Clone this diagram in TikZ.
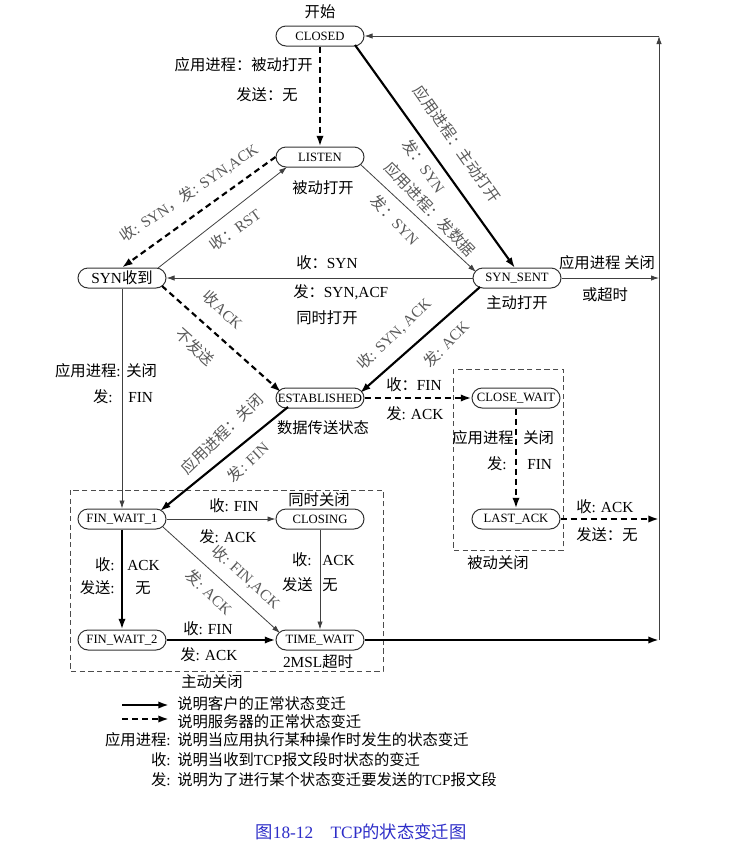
\documentclass[tikz,border=0pt]{standalone}
\usepackage{fontspec}
\setmainfont{Liberation Serif}
\newfontfamily\cjk{Noto Sans CJK SC}
\usetikzlibrary{arrows.meta,calc}
% automatic switch to the CJK font for ideographs
\XeTeXinterchartokenstate=1
\newXeTeXintercharclass\CJKcls
\count255="4E00
\loop\ifnum\count255<"A000 \XeTeXcharclass\count255=\CJKcls\relax\advance\count255 by 1 \repeat
\XeTeXcharclass"FF1A=\CJKcls\relax
\XeTeXcharclass"FF0C=\CJKcls\relax
\XeTeXcharclass"3000=\CJKcls\relax
\XeTeXinterchartoks 0 \CJKcls = {\cjk}
\XeTeXinterchartoks 4095 \CJKcls = {\cjk}
\XeTeXinterchartoks \CJKcls 0 = {\rmfamily}
\XeTeXinterchartoks \CJKcls 4095 = {\rmfamily}
\definecolor{capblue}{RGB}{45,45,200}
\tikzset{
  state/.style={draw=black!80, line width=0.75pt, rounded corners=7.5pt,
    minimum width=66pt, minimum height=15pt, inner sep=0pt,
    font=\fontsize{9.5}{10}\selectfont},
  lbl/.style={font=\fontsize{11.5}{13}\selectfont, inner sep=0pt},
  rlbl/.style={lbl, text=black!65},
  thickarr/.style={line width=1.6pt, -{Latex[length=8pt,width=5.5pt]}},
  thinarr/.style={line width=0.6pt, draw=black!75, -{Latex[length=6pt,width=4pt]}},
  dasharr/.style={thickarr, dash pattern=on 4.5pt off 3pt},
  groupbox/.style={draw=black!70, line width=0.6pt, dash pattern=on 4pt off 2.5pt},
}
\begin{document}
\begin{tikzpicture}[x=0.75pt,y=-0.75pt]
\useasboundingbox (0,0) rectangle (742,847);

% dashed group boxes
\draw[groupbox] (70,490) rectangle (383,671);
\draw[groupbox] (453,369) rectangle (563,550);

% states
\node[state] (closed) at (320,36) {CLOSED};
\node[state] (listen) at (320,157) {LISTEN};
\node[state, font=\fontsize{11.5}{13}\selectfont] (synrcvd) at (122,278) {SYN收到};
\node[state] (synsent) at (517,278) {SYN\_SENT};
\node[state] (est) at (320,398) {ESTABLISHED};
\node[state] (closewait) at (516,398) {CLOSE\_WAIT};
\node[state] (lastack) at (516,519) {LAST\_ACK};
\node[state] (fw1) at (122,519) {FIN\_WAIT\_1};
\node[state] (closing) at (320,519) {CLOSING};
\node[state] (fw2) at (122,640) {FIN\_WAIT\_2};
\node[state] (timewait) at (320,640) {TIME\_WAIT};

\coordinate (r1) at (659,278);
\coordinate (r2) at (659,519);
\coordinate (r3) at (659,640);
\coordinate (rtop) at (659,36);

% transitions
\draw[dasharr] (closed) -- (listen);
\draw[thickarr] ($(closed)+(35,9)$) -- ($(synsent)+(-2,-10)$);
\draw[thinarr] ($(listen)+(40,7)$) -- ($(synsent)+(-41,-6)$);
\draw[dasharr] (listen.west) -- (synrcvd.north);
\draw[thinarr] ($(synrcvd)+(36,-10)$) -- ($(listen)+(-33,10)$);
\draw[thinarr] (synsent) -- (synrcvd);
\draw[dasharr] ($(synrcvd)+(40,8)$) -- ($(est)+(-39,-6)$);
\draw[thickarr] ($(synsent)+(-37,9)$) -- ($(est)+(40,-5)$);
\draw[dasharr] (est) -- (closewait);
\draw[dasharr] (closewait) -- (lastack);
\draw[dasharr] (lastack) -- (r2);
\draw[thinarr] (synrcvd) -- (fw1);
\draw[thickarr] ($(est)+(-32,9)$) -- ($(fw1)+(38,-8)$);
\draw[thinarr] (fw1) -- (closing);
\draw[thickarr] (fw1) -- (fw2);
\draw[thinarr] ($(fw1)+(41,8)$) -- ($(timewait)+(-40,-7)$);
\draw[thinarr] (closing) -- (timewait);
\draw[thickarr] (fw2) -- (timewait);
\draw[thickarr] (timewait) -- (r3);
\draw[thinarr] (synsent) -- (r1);
\draw[thinarr] (r3) -- (rtop);
\draw[thinarr] (rtop) -- (closed);

% plain labels
\node[lbl] (t0) at (320,12) {开始};
\node[lbl, anchor=east] (t1) at (313,65) {应用进程：被动打开};
\node[lbl, anchor=east] (t2) at (298,95) {发送：无};
\node[lbl] (t3) at (323,188) {被动打开};
\node[lbl, anchor=west] (t4) at (296,263) {收：SYN};
\node[lbl, anchor=west] (t5) at (293,292) {发：SYN,ACF};
\node[lbl, anchor=west] (t6) at (296,318) {同时打开};
\node[lbl] (t7) at (517,303) {主动打开};
\node[lbl] (t8) at (607,263) {应用进程 关闭};
\node[lbl] (t9) at (605,295) {或超时};
\node[lbl, anchor=east] (t10) at (121,371) {应用进程:};
\node[lbl, anchor=west] (t11) at (126,371) {关闭};
\node[lbl, anchor=east] (t12) at (113,397) {发:};
\node[lbl, anchor=west] (t13) at (128,397) {FIN};
\node[lbl] (t14) at (323,428) {数据传送状态};
\node[lbl, anchor=west] (t15) at (386,385) {收：FIN};
\node[lbl, anchor=west] (t16) at (386,414) {发: ACK};
\node[lbl, anchor=east] (t17) at (514,438) {应用进程};
\node[lbl, anchor=west] (t18) at (523,438) {关闭};
\node[lbl, anchor=east] (t19) at (507,464) {发:};
\node[lbl, anchor=west] (t20) at (527,464) {FIN};
\node[lbl, anchor=west] (t21) at (576,507) {收: ACK};
\node[lbl, anchor=west] (t22) at (576,535) {发送：无};
\node[lbl] (t23) at (498,563) {被动关闭};
\node[lbl] (t24) at (319,500) {同时关闭};
\node[lbl, anchor=west] (t25) at (209,506) {收: FIN};
\node[lbl, anchor=west] (t26) at (199,537) {发: ACK};
\node[lbl, anchor=east] (t27) at (115,565) {收:};
\node[lbl, anchor=west] (t28) at (127,565) {ACK};
\node[lbl, anchor=east] (t29) at (115,588) {发送:};
\node[lbl, anchor=west] (t30) at (135,588) {无};
\node[lbl, anchor=east] (t31) at (312,560) {收:};
\node[lbl, anchor=west] (t32) at (322,560) {ACK};
\node[lbl, anchor=east] (t33) at (313,585) {发送};
\node[lbl, anchor=west] (t34) at (322,585) {无};
\node[lbl, anchor=west] (t35) at (183,629) {收: FIN};
\node[lbl, anchor=west] (t36) at (180,655) {发: ACK};
\node[lbl] (t37) at (318,662) {2MSL超时};
\node[lbl] (t38) at (212,682) {主动关闭};

% sloped labels
\node[rlbl, rotate=-55] (s1) at (457,144) {应用进程：主动打开};
\node[rlbl, rotate=-55] (s2) at (424,166) {发：SYN};
\node[rlbl, rotate=-46] (s3) at (430,209) {应用进程：发数据};
\node[rlbl, rotate=-46] (s4) at (395,220) {发：SYN};
\node[rlbl, rotate=34] (s5) at (189,193) {收: SYN，发: SYN,ACK};
\node[rlbl, rotate=36] (s6) at (235,230) {收：RST};
\node[rlbl, rotate=-43] (s7) at (223,310) {收ACK};
\node[rlbl, rotate=-42] (s8) at (195,347) {不发送};
\node[rlbl, rotate=44] (s9) at (394,334) {收: SYN, ACK};
\node[rlbl, rotate=46] (s10) at (446,344) {发: ACK};
\node[rlbl, rotate=44] (s11) at (222,434) {应用进程：关闭};
\node[rlbl, rotate=43] (s12) at (248,462) {发: FIN};
\node[rlbl, rotate=-42] (s13) at (246,577) {收: FIN,ACK};
\node[rlbl, rotate=-43] (s14) at (209,592) {发: ACK};

% legend
\coordinate (la1) at (122,705);
\coordinate (lb1) at (169,705);
\coordinate (la2) at (122,719);
\coordinate (lb2) at (169,719);
\draw[thickarr] (la1) -- (lb1);
\draw[dasharr] (la2) -- (lb2);
\node[lbl, anchor=west] (g1) at (177,704) {说明客户的正常状态变迁};
\node[lbl, anchor=west] (g2) at (177,722) {说明服务器的正常状态变迁};
\node[lbl, anchor=east] (g3a) at (171,740) {应用进程:};
\node[lbl, anchor=west] (g3) at (177,740) {说明当应用执行某种操作时发生的状态变迁};
\node[lbl, anchor=east] (g4a) at (171,760) {收:};
\node[lbl, anchor=west] (g4) at (177,760) {说明当收到TCP报文段时状态的变迁};
\node[lbl, anchor=east] (g5a) at (171,780) {发:};
\node[lbl, anchor=west] (g5) at (177,780) {说明为了进行某个状态变迁要发送的TCP报文段};

% caption
\node[lbl, font=\fontsize{13}{15}\selectfont, text=capblue] (cap) at (361,832) {图18-12\quad TCP的状态变迁图};
\end{tikzpicture}
\end{document}
